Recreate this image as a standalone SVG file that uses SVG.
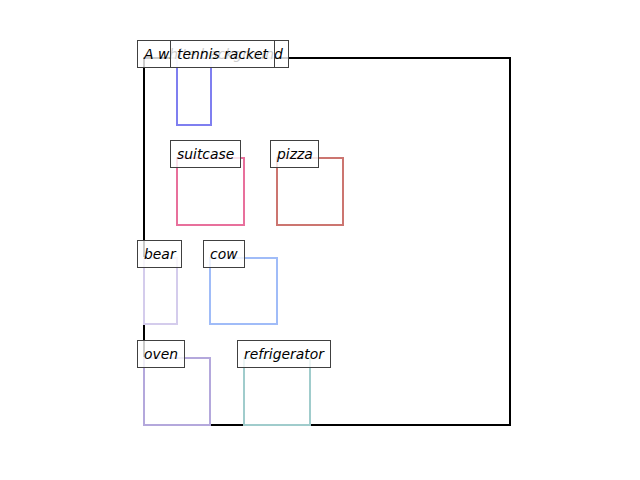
<svg xmlns="http://www.w3.org/2000/svg" width="640" height="480" viewBox="0 0 640 480">
<style>
.lb{fill:#ffffff;fill-opacity:0.8;stroke:#404040;stroke-width:1}
.t{font-family:"DejaVu Sans",sans-serif;font-style:italic;font-size:13.9px;fill:#000}
.r{fill:none;stroke-width:2}
</style>
<rect x="0" y="0" width="640" height="480" fill="#ffffff"/>
<g id="frame"><rect x="144" y="58" width="366" height="367" fill="none" stroke="#000" stroke-width="2"/></g>
<g id="connectors"></g>
<g id="tennis-racket-box"><rect class="r" x="177" y="58" width="34" height="67" stroke="#7f7ff0"/></g>
<g id="suitcase-box"><rect class="r" x="177" y="158" width="67" height="67" stroke="#e8709c"/></g>
<g id="pizza-box"><rect class="r" x="277" y="158" width="66" height="67" stroke="#cc7570"/></g>
<g id="bear-box"><rect class="r" x="144" y="258" width="33" height="66" stroke="#d4ccec"/></g>
<g id="cow-box"><rect class="r" x="210" y="258" width="67" height="66" stroke="#a0bcf8"/></g>
<g id="oven-box"><rect class="r" x="144" y="358" width="66" height="67" stroke="#b4a8dc"/></g>
<g id="refrigerator-box"><rect class="r" x="244" y="358" width="66" height="67" stroke="#a0cccc"/></g>
<g id="label-background"><rect class="lb" x="137.5" y="40.5" width="151" height="27"/><text class="t" x="144" y="59">A white background</text></g>
<g id="label-tennis-racket"><rect class="lb" x="170.5" y="40.5" width="104" height="27"/><text class="t" x="177" y="59">tennis racket</text></g>
<g id="label-suitcase"><rect class="lb" x="170.5" y="140.5" width="70" height="27"/><text class="t" x="177" y="159">suitcase</text></g>
<g id="label-pizza"><rect class="lb" x="270.5" y="140.5" width="48" height="27"/><text class="t" x="277" y="159">pizza</text></g>
<g id="label-bear"><rect class="lb" x="137.5" y="240.5" width="44" height="27"/><text class="t" x="144" y="259">bear</text></g>
<g id="label-cow"><rect class="lb" x="203.5" y="240.5" width="41" height="27"/><text class="t" x="210" y="259">cow</text></g>
<g id="label-oven"><rect class="lb" x="137.5" y="340.5" width="47" height="27"/><text class="t" x="144" y="359">oven</text></g>
<g id="label-refrigerator"><rect class="lb" x="237.5" y="340.5" width="93" height="27"/><text class="t" x="244" y="359">refrigerator</text></g>
</svg>
